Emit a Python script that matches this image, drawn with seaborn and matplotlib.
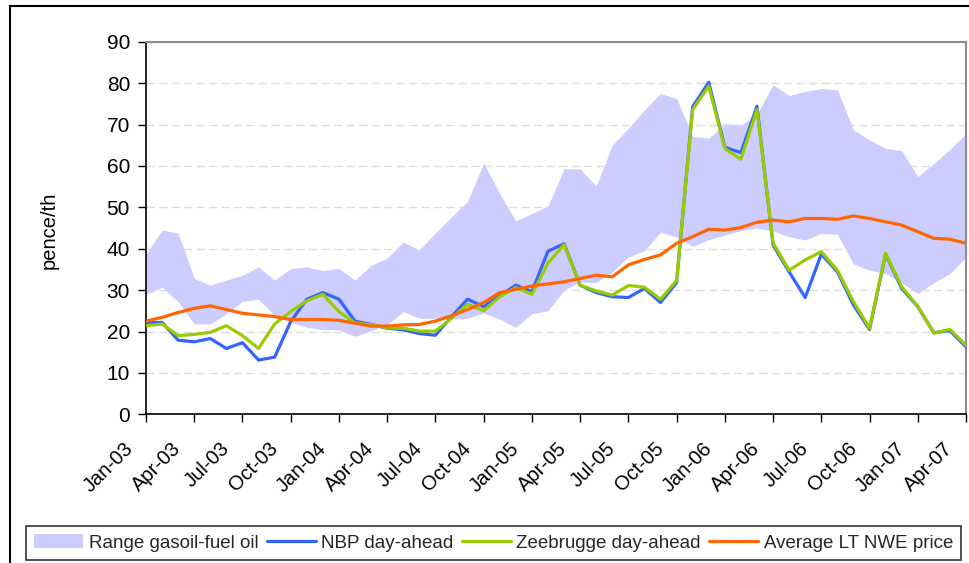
import numpy as np
import pandas as pd
import matplotlib
matplotlib.use("Agg")
import matplotlib.pyplot as plt
import seaborn as sns
from matplotlib.patches import Rectangle, Patch
from matplotlib.lines import Line2D
from matplotlib.transforms import ScaledTranslation

# ---- data (monthly, Jan-03 .. Apr-07) ----
tick_labels = ["Jan-03", "Apr-03", "Jul-03", "Oct-03", "Jan-04", "Apr-04", "Jul-04", "Oct-04",
               "Jan-05", "Apr-05", "Jul-05", "Oct-05", "Jan-06", "Apr-06", "Jul-06", "Oct-06",
               "Jan-07", "Apr-07"]

nbp = [22.1, 22.2, 17.9, 17.5, 18.3, 15.9, 17.3, 13.1, 13.8, 22.4, 27.8, 29.4,
       27.8, 22.5, 21.7, 20.8, 20.4, 19.5, 19.1, 23.6, 27.8, 26.0, 28.6, 31.2,
       29.6, 39.4, 41.2, 31.2, 29.4, 28.4, 28.2, 30.4, 27.0, 31.8, 74.3, 80.2,
       64.5, 63.2, 74.4, 40.9, 34.4, 28.2, 38.7, 34.4, 26.4, 20.5, 38.7, 30.4,
       26.0, 19.7, 20.2, 16.3]

zeebrugge = [21.4, 21.8, 19.0, 19.3, 19.8, 21.4, 19.0, 15.9, 21.8, 24.8, 27.4, 29.0,
             24.8, 22.1, 21.6, 20.9, 20.8, 20.1, 20.1, 23.2, 26.6, 25.0, 28.4, 30.6,
             29.0, 36.5, 41.0, 31.2, 29.8, 28.8, 31.1, 30.7, 27.8, 32.3, 73.6, 79.3,
             64.2, 61.6, 73.6, 41.4, 34.8, 37.3, 39.3, 34.8, 27.2, 20.8, 38.9, 30.8,
             26.1, 19.6, 20.5, 16.7]

lt_nwe = [22.5, 23.4, 24.6, 25.6, 26.2, 25.3, 24.4, 24.0, 23.6, 22.9, 22.9, 22.9,
          22.7, 22.0, 21.3, 21.3, 21.6, 21.7, 22.5, 23.8, 25.3, 27.0, 29.4, 30.2,
          31.0, 31.5, 32.0, 32.8, 33.6, 33.2, 36.1, 37.4, 38.5, 41.3, 42.9, 44.7,
          44.5, 45.1, 46.4, 46.9, 46.5, 47.3, 47.3, 47.1, 47.9, 47.3, 46.5, 45.7,
          44.1, 42.5, 42.3, 41.3]

range_upper = [38.7, 44.5, 43.8, 32.8, 31.2, 32.4, 33.6, 35.6, 32.4, 35.2, 35.6, 34.7,
               35.2, 32.4, 36.0, 37.7, 41.6, 39.7, 43.8, 47.7, 51.4, 60.7, 53.3, 46.7,
               48.5, 50.3, 59.3, 59.3, 55.2, 65.0, 69.1, 73.5, 77.5, 76.3, 67.1, 66.7,
               70.2, 69.8, 72.5, 79.6, 77.0, 78.0, 78.7, 78.4, 68.7, 66.3, 64.2, 63.7,
               57.4, 60.6, 64.0, 67.8]

range_lower = [29.0, 30.7, 27.2, 21.8, 21.8, 24.3, 27.3, 27.8, 23.8, 22.3, 21.0, 20.5,
               20.4, 18.8, 20.2, 21.6, 24.8, 23.2, 23.2, 23.0, 23.2, 24.5, 23.0, 21.0,
               24.3, 25.0, 30.0, 32.0, 31.8, 34.4, 38.0, 39.5, 44.0, 42.8, 40.6, 42.2,
               43.3, 44.4, 45.0, 44.3, 42.9, 42.1, 43.7, 43.5, 36.3, 34.8, 34.0, 31.8,
               29.2, 31.8, 34.0, 38.0]

series_names = ["NBP day-ahead", "Zeebrugge day-ahead", "Average LT NWE price"]
band_name = "Range gasoil-fuel oil"
colors = {"NBP day-ahead": "#3366FF", "Zeebrugge day-ahead": "#99CC00",
          "Average LT NWE price": "#FF6600"}
band_color = "#CCCCFF"

month_idx = np.arange(len(nbp))
df = pd.DataFrame({"month": month_idx,
                   "NBP day-ahead": nbp,
                   "Zeebrugge day-ahead": zeebrugge,
                   "Average LT NWE price": lt_nwe})
long = df.melt(id_vars="month", var_name="series", value_name="price")

# ---- style ----
sns.set_theme(style="white")
plt.rcParams["font.family"] = ["Liberation Sans", "DejaVu Sans"]

fig = plt.figure(figsize=(9.69, 5.63), dpi=100)
ax = fig.add_axes([146 / 969, 1 - 414.3 / 563, 820 / 969, (414.3 - 41.7) / 563])

ax.fill_between(month_idx, range_lower, range_upper, color=band_color, lw=0, zorder=1)
sns.lineplot(data=long, x="month", y="price", hue="series", hue_order=series_names,
             palette=colors, linewidth=2.3, legend=False, ax=ax, zorder=3)

ax.set_xlim(0, len(nbp) - 1)
ax.set_ylim(0, 90)
ax.set_yticks(range(0, 91, 10))
ax.set_xticks(np.arange(0, len(nbp), 3))
ax.set_xticklabels(tick_labels)
ax.set_xlabel("")
ax.set_ylabel("pence/th", fontsize=14.5, color="black")
ax.yaxis.set_label_coords(-0.107, 0.495)

ax.yaxis.grid(True, color="#DDDDDD", lw=1, ls=(0, (6, 3)))
ax.xaxis.grid(False)
ax.set_axisbelow(True)

for s in ["left", "bottom"]:
    ax.spines[s].set_color("black")
    ax.spines[s].set_linewidth(1.2)
for s in ["top", "right"]:
    ax.spines[s].set_color("#8C8C8C")
    ax.spines[s].set_linewidth(1.5)

ax.tick_params(axis="both", direction="out", length=5.5, width=1, color="black",
               labelcolor="black", left=True, bottom=True)
ax.tick_params(axis="y", labelsize=15, pad=6)
ax.tick_params(axis="x", labelsize=14.5, pad=4)
for lab in ax.get_xticklabels():
    lab.set_rotation(45)
    lab.set_ha("right")
    lab.set_va("center")
    lab.set_rotation_mode("anchor")
    lab.set_transform(lab.get_transform() + ScaledTranslation(-0.16, -0.18, fig.dpi_scale_trans))

# ---- legend ----
handles = [Patch(facecolor=band_color, edgecolor="none")] + \
          [Line2D([], [], color=colors[n], lw=2.3) for n in series_names]
labels = [band_name] + series_names
leg = fig.legend(handles, labels, loc="lower left", bbox_to_anchor=(26 / 969, 3 / 563),
                 ncol=4, frameon=True, fancybox=False, edgecolor="black", fontsize=13.5,
                 handlelength=2.6, handletextpad=0.3, columnspacing=0.45,
                 borderpad=0.45, borderaxespad=0)
leg.get_frame().set_linewidth(1.2)

# outer chart border (clipped at right and bottom as in reference)
fig.patches.append(Rectangle((10 / 969, -0.1), 1.2, 1 - 6 / 563 + 0.1,
                             transform=fig.transFigure, fill=False, ec="black", lw=1.5))

fig.savefig("out.png", dpi=100)
